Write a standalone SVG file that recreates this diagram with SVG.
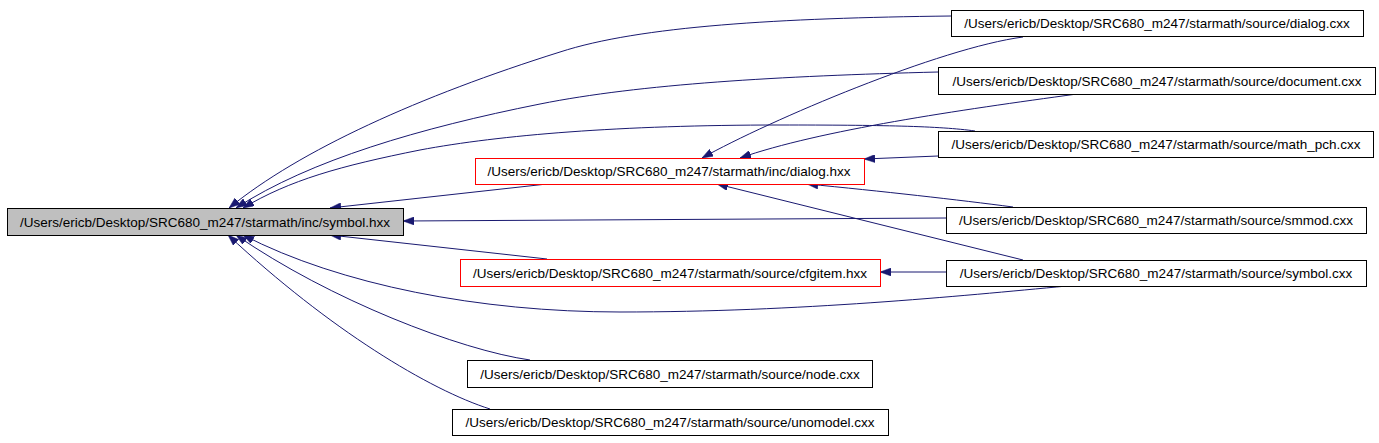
<svg xmlns="http://www.w3.org/2000/svg" width="1379" height="443" viewBox="0 0 1379 443">
<defs>
<style>
.n rect{fill:#ffffff;stroke:#000000;stroke-width:1}
.n.red rect{stroke:#ff0000}
.n.cur rect{fill:#bfbfbf}
.n text{font-family:"Liberation Sans",Arial,Helvetica,sans-serif;font-size:13.5px;fill:#000000;text-anchor:middle}
.e path{fill:none;stroke:#191970;stroke-width:1;marker-end:url(#ah)}
</style>
<marker id="ah" viewBox="0 0 11 8" refX="11" refY="4" markerWidth="11" markerHeight="8" markerUnits="userSpaceOnUse" orient="auto">
<path d="M0,0 L11,4 L0,8 z" fill="#191970" stroke="#191970" stroke-width="0.5"/>
</marker>
</defs>
<rect x="0" y="0" width="1379" height="443" fill="#ffffff"/>
<g id="connectors" class="e">
<path d="M951,16 C 780,18 640,26 560,52 C 420,96 300,150 229,208"/>
<path d="M938,72 C 780,76 640,84 540,104 C 420,128 310,160 236,208"/>
<path d="M975,131 C 940,126 880,125 780,125 C 620,125 500,135 420,150 C 340,166 290,180 243,208"/>
<path d="M547,184 L330,208"/>
<path d="M946,218 L403,221"/>
<path d="M547,259 L330,235"/>
<path d="M1067,286 C 960,296 800,312 620,312 C 480,312 340,285 243,235"/>
<path d="M530,360 C 460,350 330,300 236,235"/>
<path d="M490,409 C 430,390 330,330 228,235"/>
<path d="M1023,37 C 940,48 770,120 702,158"/>
<path d="M1077,94 C 960,110 820,130 740,158"/>
<path d="M938,156 L864,159"/>
<path d="M1013,207 C 960,200 880,191 807,184"/>
<path d="M1023,260 L717,184"/>
<path d="M946,272 L880,272"/>
</g>
<g id="symbol_hxx" class="n cur"><rect x="7.5" y="208.5" width="396" height="27"/><text x="205" y="226.5">/Users/ericb/Desktop/SRC680_m247/starmath/inc/symbol.hxx</text></g>
<g id="dialog_hxx" class="n red"><rect x="475.5" y="158.5" width="389" height="26"/><text x="669" y="176">/Users/ericb/Desktop/SRC680_m247/starmath/inc/dialog.hxx</text></g>
<g id="cfgitem_hxx" class="n red"><rect x="460.5" y="259.5" width="420" height="27"/><text x="670" y="277.5">/Users/ericb/Desktop/SRC680_m247/starmath/source/cfgitem.hxx</text></g>
<g id="dialog_cxx" class="n"><rect x="951.5" y="10.5" width="412" height="26"/><text x="1157" y="28">/Users/ericb/Desktop/SRC680_m247/starmath/source/dialog.cxx</text></g>
<g id="document_cxx" class="n"><rect x="938.5" y="67.5" width="437" height="27"/><text x="1157" y="85.5">/Users/ericb/Desktop/SRC680_m247/starmath/source/document.cxx</text></g>
<g id="math_pch_cxx" class="n"><rect x="938.5" y="131.5" width="435" height="26"/><text x="1156" y="149">/Users/ericb/Desktop/SRC680_m247/starmath/source/math_pch.cxx</text></g>
<g id="smmod_cxx" class="n"><rect x="946.5" y="207.5" width="420" height="26"/><text x="1156" y="225">/Users/ericb/Desktop/SRC680_m247/starmath/source/smmod.cxx</text></g>
<g id="symbol_cxx" class="n"><rect x="946.5" y="260.5" width="420" height="26"/><text x="1156" y="278">/Users/ericb/Desktop/SRC680_m247/starmath/source/symbol.cxx</text></g>
<g id="node_cxx" class="n"><rect x="467.5" y="360.5" width="405" height="27"/><text x="670" y="378.5">/Users/ericb/Desktop/SRC680_m247/starmath/source/node.cxx</text></g>
<g id="unomodel_cxx" class="n"><rect x="452.5" y="409.5" width="436" height="26"/><text x="670" y="427">/Users/ericb/Desktop/SRC680_m247/starmath/source/unomodel.cxx</text></g>
</svg>
